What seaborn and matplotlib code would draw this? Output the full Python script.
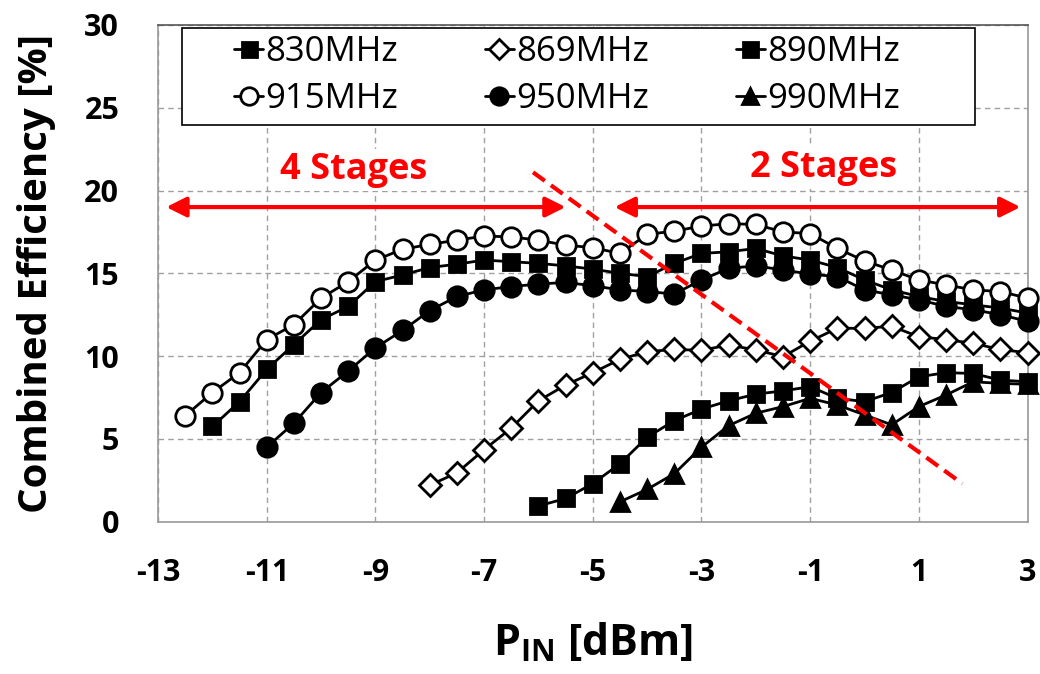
import pandas as pd
import seaborn as sns
import matplotlib.pyplot as plt
from matplotlib.patches import Rectangle

# Dados (P_IN em dBm, eficiência em %)
x_915 = [-12.5, -12, -11.5, -11, -10.5, -10, -9.5, -9, -8.5, -8, -7.5, -7, -6.5, -6, -5.5, -5,
         -4.5, -4, -3.5, -3, -2.5, -2, -1.5, -1, -0.5, 0, 0.5, 1, 1.5, 2, 2.5, 3]
y_915 = [6.4, 7.8, 9.0, 11.0, 11.9, 13.5, 14.5, 15.8, 16.45, 16.75, 17.0, 17.25, 17.2, 17.0, 16.7, 16.55,
         16.2, 17.35, 17.55, 17.85, 18.0, 17.95, 17.5, 17.4, 16.5, 15.75, 15.2, 14.6, 14.3, 14.0, 13.9, 13.5]

x_830 = [-12, -11.5, -11, -10.5, -10, -9.5, -9, -8.5, -8, -7.5, -7, -6.5, -6, -5.5, -5,
         -4.5, -4, -3.5, -3, -2.5, -2, -1.5, -1, -0.5, 0, 0.5, 1, 1.5, 2, 2.5, 3]
y_830 = [5.75, 7.25, 9.2, 10.7, 12.2, 13.0, 14.5, 14.9, 15.35, 15.55, 15.8, 15.7, 15.6, 15.45, 15.25,
         15.0, 14.8, 15.6, 16.2, 16.3, 16.5, 16.05, 15.8, 15.35, 14.6, 14.0, 13.6, 13.3, 13.1, 12.9, 12.6]

x_950 = [-11, -10.5, -10, -9.5, -9, -8.5, -8, -7.5, -7, -6.5, -6, -5.5, -5,
         -4.5, -4, -3.5, -3, -2.5, -2, -1.5, -1, -0.5, 0, 0.5, 1, 1.5, 2, 2.5, 3]
y_950 = [4.5, 5.95, 7.8, 9.1, 10.5, 11.55, 12.75, 13.6, 14.0, 14.2, 14.35, 14.45, 14.25,
         14.0, 13.9, 13.75, 14.6, 15.3, 15.45, 15.2, 14.95, 14.8, 14.0, 13.7, 13.4, 13.0, 12.8, 12.5, 12.1]

x_869 = [-8, -7.5, -7, -6.5, -6, -5.5, -5, -4.5, -4, -3.5, -3, -2.5, -2, -1.5, -1, -0.5,
         0, 0.5, 1, 1.5, 2, 2.5, 3]
y_869 = [2.2, 2.95, 4.35, 5.65, 7.3, 8.25, 9.0, 9.8, 10.27, 10.4, 10.35, 10.67, 10.37, 9.97, 10.9, 11.68,
         11.68, 11.8, 11.17, 11.0, 10.77, 10.4, 10.2]

x_890 = [-6, -5.5, -5, -4.5, -4, -3.5, -3, -2.5, -2, -1.5, -1, -0.5, 0, 0.5, 1, 1.5, 2, 2.5, 3]
y_890 = [0.95, 1.4, 2.3, 3.5, 5.1, 6.1, 6.8, 7.3, 7.7, 7.9, 8.15, 7.45, 7.25, 7.8, 8.75, 9.0, 8.95, 8.55, 8.45]

x_990 = [-4.5, -4, -3.5, -3, -2.5, -2, -1.5, -1, -0.5, 0, 0.5, 1, 1.5, 2, 2.5, 3]
y_990 = [1.2, 1.95, 2.9, 4.5, 5.8, 6.55, 6.95, 7.45, 7.05, 6.45, 5.85, 6.95, 7.65, 8.45, 8.35, 8.3]

xticks = [-13, -11, -9, -7, -5, -3, -1, 1, 3]
yticks = [0, 5, 10, 15, 20, 25, 30]

sns.set_theme(style="white")
plt.rcParams["font.family"] = ["Open Sans", "DejaVu Sans"]
plt.rcParams["mathtext.fontset"] = "custom"
plt.rcParams["mathtext.bf"] = "Open Sans:bold"
plt.rcParams["mathtext.rm"] = "Open Sans"
plt.rcParams["text.color"] = "black"
plt.rcParams["axes.labelcolor"] = "black"

fig = plt.figure(figsize=(10.4, 6.74), dpi=100)
ax = fig.add_axes([0.152, 0.226, 0.836, 0.737])

# Séries: (x, y, marcador, preenchimento, tamanho)
series = {
    "830MHz": (x_830, y_830, "s", "black", 12),
    "869MHz": (x_869, y_869, "D", "white", 11),
    "890MHz": (x_890, y_890, "s", "black", 12),
    "915MHz": (x_915, y_915, "o", "white", 14),
    "950MHz": (x_950, y_950, "o", "black", 14),
    "990MHz": (x_990, y_990, "^", "black", 13),
}

handles = {}
for nome, (xs, ys, mk, fc, ms) in series.items():
    df = pd.DataFrame({"pin": xs, "eff": ys})
    sns.lineplot(data=df, x="pin", y="eff", ax=ax, color="black", linewidth=2,
                 marker=mk, markersize=ms, markerfacecolor=fc, markeredgecolor="black",
                 markeredgewidth=2, label=nome, legend=False, clip_on=False, zorder=3)
    handles[nome] = ax.lines[-1]

# Anotações em vermelho
seta = dict(arrowstyle="<|-|>", color="red", lw=3, mutation_scale=30, shrinkA=0, shrinkB=0)
ax.annotate("", xy=(-12.85, 19.0), xytext=(-5.5, 19.0), arrowprops=seta, zorder=4)
ax.annotate("", xy=(-4.6, 19.0), xytext=(2.87, 19.0), arrowprops=seta, zorder=4)
caixa = dict(facecolor="white", edgecolor="none", pad=2)
ax.text(-9.4, 21.25, "4 Stages", color="red", fontsize=26, fontweight="bold",
        ha="center", va="center", bbox=caixa, zorder=2)
ax.text(-0.75, 21.35, "2 Stages", color="red", fontsize=26, fontweight="bold",
        ha="center", va="center", bbox=caixa, zorder=2)
ax.plot([-6.1, 1.8], [21.1, 2.3], color="red", linestyle=(0, (3.5, 1.8)), linewidth=3, zorder=4)

ax.set_xlim(-13, 3)
ax.set_ylim(0, 30)
ax.set_xticks(xticks)
ax.set_yticks(yticks)
ax.set_xticklabels([str(t) for t in xticks], fontsize=22, fontweight="bold", color="black")
ax.set_yticklabels([str(t) for t in yticks], fontsize=22, fontweight="bold", color="black")
ax.tick_params(axis="x", length=0, pad=26)
ax.tick_params(axis="y", length=0, pad=28)
ax.grid(True, linestyle=(0, (4, 3)), color="#a0a0a0", linewidth=1)
for s in ax.spines.values():
    s.set_color("#999999")
    s.set_linewidth(1.2)
ax.spines["top"].set_color("#555555")

ax.set_ylabel("Combined Efficiency [%]", fontsize=29, fontweight="bold", labelpad=20)
ax.set_xlabel(r"P$_{\mathbf{IN}}$ [dBm]", fontsize=31, fontweight="bold", labelpad=24)

# Legenda: caixa desenhada à parte, entradas em 3 colunas
ax.add_patch(Rectangle((0.0276, 0.799), 0.912, 0.195, transform=ax.transAxes,
                       facecolor="white", edgecolor="black", linewidth=1.2, zorder=5))
ordem = ["830MHz", "915MHz", "869MHz", "950MHz", "890MHz", "990MHz"]
leg = ax.legend([handles[n] for n in ordem], ordem, ncol=3, loc="center",
                bbox_to_anchor=(0.47, 0.898), fontsize=25, frameon=False,
                handlelength=0.85, handletextpad=0.05, borderaxespad=0, labelspacing=0.38,
                columnspacing=2.5, borderpad=0, markerscale=0.9)
leg.set_zorder(6)

plt.savefig("out.png", dpi=100)
